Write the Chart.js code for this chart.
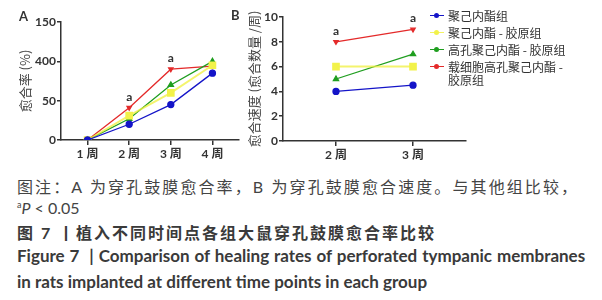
<!DOCTYPE html>
<html>
<head>
<meta charset="utf-8">
<script src="https://cdn.jsdelivr.net/npm/chart.js@4.4.1/dist/chart.umd.min.js"></script>
<style>
    body { margin: 0; background: #fff; }
    #wrap { position: relative; width: 602px; height: 300px; overflow: hidden; font-family: Lato, "Noto Sans CJK SC", sans-serif; color: #3a3a3a; }
    canvas { position: absolute; }
    .panel { position: absolute; font: bold 13px Lato, sans-serif; color: #333; }
    #legend { position: absolute; left: 430px; top: 9px; font: 12px "Noto Sans CJK SC", sans-serif; color: #333; line-height: 13px; }
    #legend .row { position: relative; padding-left: 18px; margin-bottom: 4px; width: 136px; word-break: keep-all; }
    #legend .ln { position: absolute; left: 0; top: 6px; width: 14px; height: 1px; }
    #legend .dot { position: absolute; left: 4px; top: 4px; width: 5px; height: 5px; border-radius: 50%; }
    .cap { position: absolute; left: 17px; white-space: nowrap; }
</style>
</head>
<body>
<div id="wrap">
    <canvas id="rateChart" style="left:0;top:0" width="245" height="172"></canvas>
    <canvas id="speedChart" style="left:240px;top:0" width="232" height="172"></canvas>
    <div class="panel" style="left:19px;top:8px">A</div>
    <div class="panel" style="left:231px;top:7px">B</div>
    <div id="legend"></div>
    <div class="cap" style="top:174px;font-size:16px;letter-spacing:2.1px;color:#444">图注：A 为穿孔鼓膜愈合率，B 为穿孔鼓膜愈合速度。与其他组比较，</div>
    <div class="cap" style="top:198px;font-size:16px;color:#444"><sup style="font-size:9px">a</sup><i>P</i> &lt; 0.05</div>
    <div class="cap" style="top:220px;font-size:16px;font-weight:bold;letter-spacing:2px">图 7 丨植入不同时间点各组大鼠穿孔鼓膜愈合率比较</div>
    <div class="cap" style="top:245px;font-size:17px;font-weight:bold;word-spacing:0.8px">Figure 7 &nbsp;| Comparison of healing rates of perforated tympanic membranes</div>
    <div class="cap" style="top:271px;font-size:17px;font-weight:bold">in rats implanted at different time points in each group</div>
</div>
<script>
// group names
const groups = ['聚己内酯组', '聚己内酯 - 胶原组', '高孔聚己内酯 - 胶原组', '载细胞高孔聚己内酯 - 胶原组'];
const colors = ['#1414c8', '#f2f24a', '#1f9e1f', '#e42a2a'];
const pointStyles = ['circle', 'rect', 'triangle', 'triangle'];

// A: healing rate (%) at weeks 1-4
const weeksA = [1, 2, 3, 4];
const weekLabelsA = ['1 周', '2 周', '3 周', '4 周'];
const rateBlue = [0, 20, 45, 85];
const rateYellow = [0, 31, 60, 95];
const rateGreen = [0, 27, 70, 100];
const rateRed = [0, 41, 90, 94];
const marksA = ['', 'a', 'a', ''];
const yTicksA = [0, 50, 100, 150];
const yTickTextA = ['0', '50', '400', '150'];

// B: healing speed at weeks 2-3
const weeksB = [2, 3];
const weekLabelsB = ['2 周', '3 周'];
const speedBlue = [4, 4.5];
const speedYellow = [6, 6];
const speedGreen = [5, 7];
const speedRed = [8, 9];
const marksB = ['a', 'a'];
const yTicksB = [0, 2, 4, 6, 8, 10];
const yTickTextB = ['0', '2', '4', '6', '8', '10'];

const tickFont = { family: 'Lato, "Noto Sans CJK SC"', size: 12, weight: 'bold' };
const axisColor = '#333';

function makeDatasets(weeks, series) {
    return series.map((vals, i) => ({
        label: groups[i],
        data: vals.map((v, j) => ({ x: weeks[j], y: v })),
        borderColor: i === 1 ? 'rgba(240,240,60,0.75)' : colors[i],
        backgroundColor: colors[i],
        pointBackgroundColor: colors[i],
        pointBorderColor: colors[i],
        borderWidth: i === 1 ? 2 : 1.3,
        pointStyle: pointStyles[i],
        pointRotation: i === 3 ? 180 : 0,
        pointRadius: i === 1 ? 4 : (i === 3 ? 2.5 : 3),
        tension: 0
    }));
}

// draws the "a" over the red series
const markPlugin = {
    id: 'marks',
    afterDatasetsDraw(chart, args, opts) {
        const ctx = chart.ctx;
        const meta = chart.getDatasetMeta(3);
        ctx.save();
        ctx.font = 'bold 12px Lato, sans-serif';
        ctx.fillStyle = '#333';
        ctx.textAlign = 'center';
        ctx.textBaseline = 'bottom';
        opts.marks.forEach((m, i) => {
            if (!m) return;
            const pt = meta.data[i];
            ctx.fillText(m, pt.x, pt.y - 5);
        });
        ctx.restore();
    }
};

function axisOptions(cfg) {
    return {
        x: {
            type: 'linear',
            min: cfg.xMin,
            max: cfg.xMax,
            afterBuildTicks: s => { s.ticks = cfg.weeks.map(w => ({ value: w })); },
            afterFit: s => { s.height = cfg.xHeight; },
            ticks: {
                font: tickFont, color: axisColor, padding: 2,
                callback: (v, i) => cfg.weekLabels[i]
            },
            grid: { drawOnChartArea: false, tickLength: 5, color: axisColor, lineWidth: 1.5 },
            border: { color: axisColor, width: 1.5 }
        },
        y: {
            min: cfg.yTicks[0],
            max: cfg.yTicks[cfg.yTicks.length - 1],
            afterBuildTicks: s => { s.ticks = cfg.yTicks.map(v => ({ value: v })); },
            afterFit: s => { s.width = cfg.yWidth; },
            ticks: {
                font: tickFont, color: axisColor, padding: 1,
                callback: (v, i) => cfg.yText[i]
            },
            grid: { drawOnChartArea: false, tickLength: 4, color: axisColor, lineWidth: 1.5 },
            border: { color: axisColor, width: 1.5 },
            title: {
                display: true,
                text: cfg.yTitle,
                font: { family: '"Noto Sans CJK SC"', size: 13 },
                color: '#444',
                padding: { top: cfg.titlePad, bottom: 0 }
            }
        }
    };
}

function buildChart(id, datasets, cfg) {
    const ctx = document.getElementById(id).getContext('2d');
    return new Chart(ctx, {
        type: 'line',
        data: { datasets: datasets },
        plugins: [markPlugin],
        options: {
            responsive: false,
            animation: false,
            layout: { padding: { top: cfg.padTop, right: 3, left: 0, bottom: 0 } },
            scales: axisOptions(cfg),
            plugins: {
                legend: { display: false },
                tooltip: { enabled: false },
                marks: { marks: cfg.marks }
            }
        }
    });
}

buildChart('rateChart', makeDatasets(weeksA, [rateBlue, rateYellow, rateGreen, rateRed]), {
    xMin: 0.362, xMax: 4.638, weeks: weeksA, weekLabels: weekLabelsA,
    yTicks: yTicksA, yText: yTickTextA, yTitle: '愈合率 (%)',
    xHeight: 32, yWidth: 61, titlePad: 17, padTop: 22, marks: marksA
});

buildChart('speedChart', makeDatasets(weeksB, [speedBlue, speedYellow, speedGreen, speedRed]), {
    xMin: 1.312, xMax: 3.688, weeks: weeksB, weekLabels: weekLabelsB,
    yTicks: yTicksB, yText: yTickTextB, yTitle: '愈合速度 (愈合数量 /周)',
    xHeight: 31, yWidth: 43, titlePad: 6, padTop: 17, marks: marksB
});

// html legend
const legend = document.getElementById('legend');
groups.forEach((g, i) => {
    const row = document.createElement('div');
    row.className = 'row';
    const c = i === 1 ? 'rgba(240,240,60,0.8)' : colors[i];
    row.innerHTML = '<span class="ln" style="background:' + c + '"></span>' +
        '<span class="dot" style="background:' + colors[i] + '"></span>' + g;
    legend.appendChild(row);
});
</script>
</body>
</html>
